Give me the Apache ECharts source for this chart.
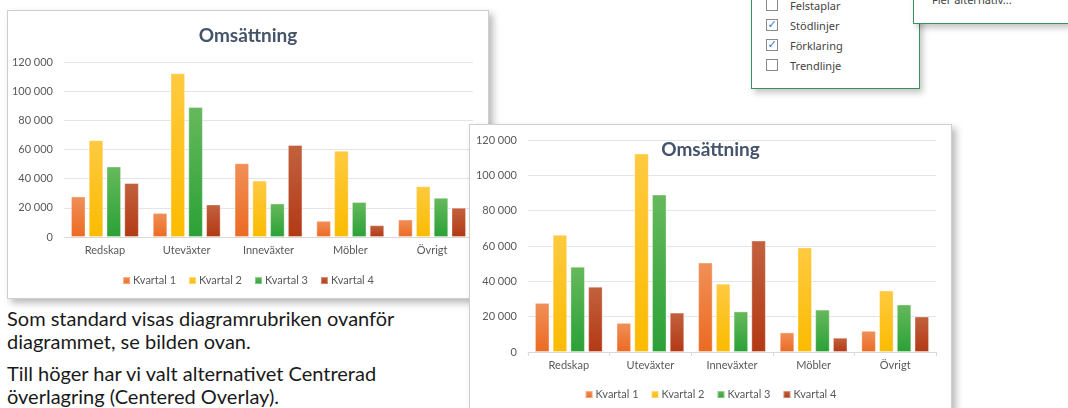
<!DOCTYPE html>
<html lang="sv">
<head>
<meta charset="utf-8">
<title>Omsättning</title>
<script src="https://cdn.jsdelivr.net/npm/echarts@6/dist/echarts.min.js"></script>
<style>
  html, body { margin: 0; padding: 0; background: #fff; }
  body { width: 1068px; height: 408px; overflow: hidden; position: relative; font-family: Lato, "Noto Sans", sans-serif; }
  .chartBox { position: absolute; background: #fff; border: 1px solid #cfcfcf; box-sizing: border-box; box-shadow: 4px 4px 7px rgba(0,0,0,.28); }
  #chartStandard { left: 7px; top: 10px; width: 482px; height: 289px; z-index: 1; }
  #chartOverlay { left: 469px; top: 124px; width: 483px; height: 289px; z-index: 2; }
  .bodyText { position: absolute; left: 7px; top: 307px; width: 460px; font-family: Lato, sans-serif; font-size: 20px; line-height: 23px; color: #1a1a1a; }
  .bodyText p { margin: 0 0 9px 0; }
  .menu { position: absolute; background: #fff; border: 1px solid #3a8f5e; box-shadow: 3px 4px 6px rgba(0,0,0,.22); font-family: "Noto Sans", sans-serif; font-size: 11px; color: #444; }
  #menuList { left: 751px; top: -60px; width: 167px; height: 147px; z-index: 3; }
  #menuMore { left: 913px; top: -60px; width: 154px; height: 82px; z-index: 4; }
  .item { position: absolute; left: 14px; height: 14px; line-height: 14px; }
  .box { position: absolute; left: 0; top: 0; width: 12px; height: 12px; border: 1px solid #8a8a8a; box-sizing: border-box; background: #fff; color: #2b7cd3; font-size: 11px; line-height: 10px; text-align: center; font-family: "DejaVu Sans", sans-serif; font-weight: bold; }
  .lbl { position: absolute; left: 24px; top: 0; white-space: nowrap; }
</style>
</head>
<body>
<div class="menu" id="menuList">
  <div class="item" style="top:58px"><span class="box"></span><span class="lbl">Felstaplar</span></div>
  <div class="item" style="top:78px"><span class="box">✓</span><span class="lbl">Stödlinjer</span></div>
  <div class="item" style="top:98px"><span class="box">✓</span><span class="lbl">Förklaring</span></div>
  <div class="item" style="top:118px"><span class="box"></span><span class="lbl">Trendlinje</span></div>
</div>
<div class="menu" id="menuMore">
  <div style="position:absolute;left:18px;top:52px;line-height:14px;white-space:nowrap">Fler alternativ...</div>
</div>

<div class="chartBox" id="chartStandard"></div>
<div class="chartBox" id="chartOverlay"></div>

<div class="bodyText">
  <p>Som standard visas diagramrubriken ovanför diagrammet, se bilden ovan.</p>
  <p>Till höger har vi valt alternativet Centrerad överlagring (Centered Overlay).</p>
</div>

<script>
const chartTitle = "Omsättning";
const categories = ["Redskap", "Uteväxter", "Inneväxter", "Möbler", "Övrigt"];
const seriesNames = ["Kvartal 1", "Kvartal 2", "Kvartal 3", "Kvartal 4"];
const kvartal1 = [27800, 16500, 50600, 11100, 12000];
const kvartal2 = [66400, 112300, 38700, 59200, 34800];
const kvartal3 = [48300, 89100, 23000, 24000, 26900];
const kvartal4 = [37000, 22300, 63100, 8100, 20100];
const yMin = 0;
const yMax = 120000;
const yStep = 20000;

const values = [kvartal1, kvartal2, kvartal3, kvartal4];
const baseColors = ["#ed7d31", "#ffc000", "#3ca83c", "#bb4a22"];
const gradients = [
  ["#f09058", "#ec6a22"],
  ["#ffca40", "#fbbb00"],
  ["#66b95c", "#2aa136"],
  ["#c2613f", "#b33914"]
];

const font = "Lato, 'Noto Sans', sans-serif";

function thousands(v) {
  return String(v).replace(/\B(?=(\d{3})+(?!\d))/g, " ");
}

function buildOption(grid, showTicks) {
  return {
    backgroundColor: "#fff",
    animation: false,
    color: baseColors,
    textStyle: { fontFamily: font },
    title: {
      text: chartTitle,
      left: "center",
      top: 10,
      textStyle: { fontFamily: font, fontSize: 19, fontWeight: "bold", color: "#44546a" }
    },
    legend: {
      data: seriesNames,
      left: "center",
      top: 259,
      icon: "rect",
      itemWidth: 7,
      itemHeight: 7,
      itemGap: 12,
      textStyle: { fontFamily: font, fontSize: 11, color: "#595959", padding: [0, 0, 0, -2] }
    },
    grid: grid,
    xAxis: {
      type: "category",
      data: categories,
      axisLine: { lineStyle: { color: "#d9d9d9" } },
      axisTick: { show: showTicks, length: 4, lineStyle: { color: "#d9d9d9" } },
      axisLabel: { margin: 8, fontFamily: font, fontSize: 11, color: "#595959" }
    },
    yAxis: {
      type: "value",
      min: yMin,
      max: yMax,
      interval: yStep,
      axisLine: { show: false },
      axisTick: { show: false },
      axisLabel: { margin: 11, fontFamily: font, fontSize: 11, color: "#595959", formatter: thousands },
      splitLine: { lineStyle: { color: "#e2e5ea" } }
    },
    series: seriesNames.map((name, i) => ({
      name: name,
      type: "bar",
      data: values[i],
      barGap: "22%",
      barCategoryGap: "17%",
      itemStyle: {
        color: {
          type: "linear", x: 0, y: 0, x2: 0, y2: 1,
          colorStops: [{ offset: 0, color: gradients[i][0] }, { offset: 1, color: gradients[i][1] }]
        },
        borderColor: "rgba(255,255,255,0.35)",
        borderWidth: 1
      }
    }))
  };
}

const standardChart = echarts.init(document.getElementById("chartStandard"), null, { renderer: "canvas" });
standardChart.setOption(buildOption({ left: 56, right: 15, top: 51, bottom: 61 }, false));

const overlayChart = echarts.init(document.getElementById("chartOverlay"), null, { renderer: "canvas" });
overlayChart.setOption(buildOption({ left: 58, right: 15, top: 15, bottom: 60 }, true));
</script>
</body>
</html>
